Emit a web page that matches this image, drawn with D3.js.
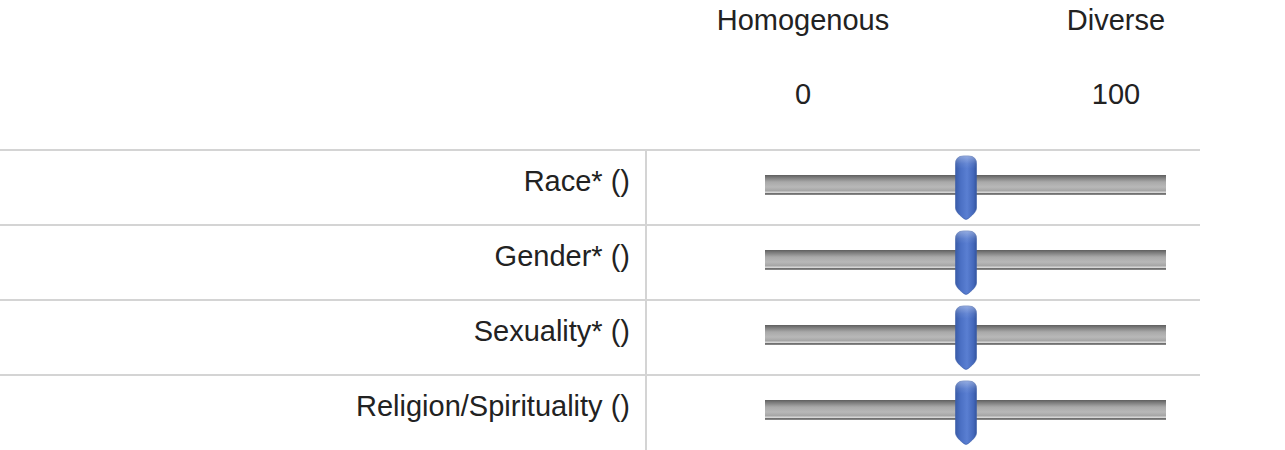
<!DOCTYPE html>
<html>
<head>
<meta charset="utf-8">
<script src="https://cdn.jsdelivr.net/npm/d3@7/dist/d3.min.js"></script>
<style>
  html, body { margin: 0; padding: 0; background: #fff; }
  svg { display: block; }
  text { font-family: "Liberation Sans", Arial, sans-serif; fill: #222; }
</style>
</head>
<body>
<script>
const categories = ["Race* ()", "Gender* ()", "Sexuality* ()", "Religion/Spirituality ()"];
const values = [50, 50, 50, 50];
const scaleLabels = ["Homogenous", "Diverse"];
const tickLabels = ["0", "100"];

const W = 1285, H = 450;
const svg = d3.select("body").append("svg").attr("width", W).attr("height", H);
const defs = svg.append("defs");

const trackGrad = defs.append("linearGradient").attr("id", "trackGrad")
  .attr("x1", 0).attr("y1", 0).attr("x2", 0).attr("y2", 1);
[[0, "#5e5e5e"], [0.12, "#7a7a7a"], [0.35, "#a9a9a9"], [0.6, "#b8b8b8"], [0.8, "#a4a4a4"],
 [0.84, "#cfcfcf"], [0.88, "#d6d6d6"], [0.9, "#6a6a6a"], [0.97, "#7a7a7a"], [1, "#bdbdbd"]]
  .forEach(([o, c]) => trackGrad.append("stop").attr("offset", o).attr("stop-color", c));

const knobGrad = defs.append("linearGradient").attr("id", "knobGrad")
  .attr("x1", 0).attr("y1", 0).attr("x2", 1).attr("y2", 0);
[[0, "#3a5ca8"], [0.25, "#4b70c4"], [0.55, "#5a7fd2"], [0.85, "#4468bb"], [1, "#34559f"]]
  .forEach(([o, c]) => knobGrad.append("stop").attr("offset", o).attr("stop-color", c));

const knobShine = defs.append("linearGradient").attr("id", "knobShine")
  .attr("x1", 0).attr("y1", 0).attr("x2", 0).attr("y2", 1);
[[0, "#ffffff", 0.35], [0.12, "#ffffff", 0.08], [0.2, "#ffffff", 0], [1, "#ffffff", 0]]
  .forEach(([o, c, a]) => knobShine.append("stop").attr("offset", o).attr("stop-color", c).attr("stop-opacity", a));

const x = d3.scaleLinear().domain([0, 100]).range([765, 1166]);
const y = d3.scaleBand().domain(categories).range([150, 450]);
const headerX = d3.scalePoint().domain(d3.range(scaleLabels.length)).range([803, 1116]);

// header labels
svg.append("g").selectAll("text").data(scaleLabels).join("text")
  .attr("x", (d, i) => headerX(i)).attr("y", 30)
  .attr("text-anchor", "middle").attr("font-size", 29).text(d => d);
svg.append("g").selectAll("text").data(tickLabels).join("text")
  .attr("x", (d, i) => headerX(i)).attr("y", 104)
  .attr("text-anchor", "middle").attr("font-size", 29).text(d => d);

// grid lines
svg.append("g").selectAll("line").data(categories).join("line")
  .attr("x1", 0).attr("x2", 1200)
  .attr("y1", d => y(d)).attr("y2", d => y(d))
  .attr("stroke", "#d4d4d4").attr("stroke-width", 2);
svg.append("line").attr("x1", 646).attr("x2", 646).attr("y1", y.range()[0]).attr("y2", H)
  .attr("stroke", "#d4d4d4").attr("stroke-width", 2);

// row labels
svg.append("g").selectAll("text").data(categories).join("text")
  .attr("x", 630).attr("y", d => y(d) + 41)
  .attr("text-anchor", "end").attr("font-size", 29).text(d => d);

// tracks
svg.append("g").selectAll("rect").data(categories).join("rect")
  .attr("x", x(0)).attr("width", x(100) - x(0))
  .attr("y", d => y(d) + 25).attr("height", 20)
  .attr("fill", "url(#trackGrad)");

// knobs
const kw = 21, kTop = 6, kStraight = 58, kTip = 70, r = 8;
function knobPath(cx, top) {
  const l = cx - kw / 2, rgt = cx + kw / 2;
  const p = d3.path();
  p.moveTo(l, top + r);
  p.quadraticCurveTo(l, top, l + r, top);
  p.lineTo(rgt - r, top);
  p.quadraticCurveTo(rgt, top, rgt, top + r);
  p.lineTo(rgt, top + kStraight - kTop);
  p.quadraticCurveTo(rgt, top + kStraight - kTop + 4, cx + 3, top + kTip - kTop - 2);
  p.quadraticCurveTo(cx, top + kTip - kTop + 1, cx - 3, top + kTip - kTop - 2);
  p.quadraticCurveTo(l, top + kStraight - kTop + 4, l, top + kStraight - kTop);
  p.closePath();
  return p.toString();
}
const knobs = svg.append("g").selectAll("g").data(values).join("g");
knobs.append("path")
  .attr("d", (d, i) => knobPath(x(d) + 0.5, y(categories[i]) + kTop))
  .attr("fill", "url(#knobGrad)").attr("stroke", "#3d5ea8").attr("stroke-width", 0.6);
knobs.append("path")
  .attr("d", (d, i) => knobPath(x(d) + 0.5, y(categories[i]) + kTop))
  .attr("fill", "url(#knobShine)");
</script>
</body>
</html>
